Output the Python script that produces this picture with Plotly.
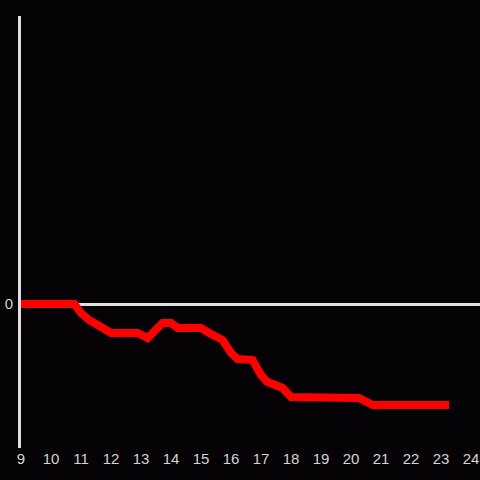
import plotly.graph_objects as go

hours = [9.0, 10.78, 11.0, 11.27, 11.67, 12.0, 12.89, 13.22, 13.72, 14.0, 14.22, 15.0,
         15.27, 15.72, 16.0, 16.22, 16.72, 17.0, 17.22, 17.72, 18.0, 20.1, 20.27, 20.72, 23.27]
values = [0.0, 0.0, -0.9, -1.6, -2.3, -2.9, -2.9, -3.4, -1.9, -1.9, -2.4, -2.4,
          -2.9, -3.6, -4.9, -5.5, -5.6, -7.1, -7.8, -8.4, -9.3, -9.3, -9.4, -10.1, -10.1]
x_ticks = list(range(9, 25))

fig = go.Figure(go.Scatter(x=hours, y=values, mode="lines",
                           line=dict(color="#ff0000", width=8), hoverinfo="skip"))

fig.update_layout(
    width=480, height=480,
    margin=dict(l=21, r=0, t=16, b=32),
    paper_bgcolor="#050306", plot_bgcolor="#050306",
    showlegend=False,
    font=dict(family="Liberation Sans, Arial, sans-serif", size=15, color="#d4d4d4"),
)
fig.update_xaxes(range=[9, 9 + 459 / 30], tickvals=x_ticks, ticktext=[str(t) for t in x_ticks],
                 showgrid=False, zeroline=False, showline=False, ticks="",
                 fixedrange=True)
fig.update_yaxes(range=[-14.4, 28.8], tickvals=[0], ticktext=["0"],
                 showgrid=False, zeroline=True, zerolinecolor="#e0e0e0", zerolinewidth=3,
                 showline=True, linecolor="#e0e0e0", linewidth=3, ticks="",
                 ticklabelstandoff=2)

fig.write_html("out.html", config={"displayModeBar": False},
               post_script="document.body.style.margin='0';document.body.style.overflow='hidden';document.body.style.background='#050306';")
